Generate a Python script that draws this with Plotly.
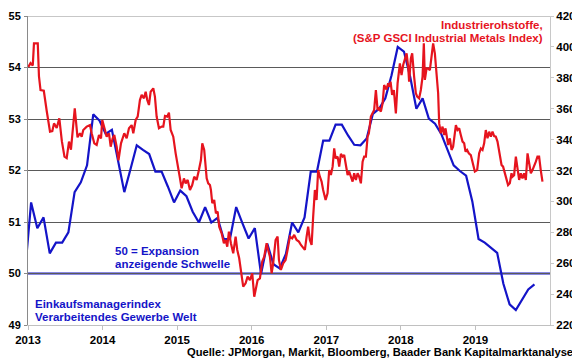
import pandas as pd
import plotly.graph_objects as go

# ---------------- data ----------------
# Global manufacturing PMI (monthly, Dec 2012 .. Oct 2019)
pmi_months = pd.period_range("2012-12", "2019-10", freq="M")
pmi_values = [
    50.0,
    51.38, 50.88, 51.09, 50.39, 50.60, 50.60, 50.80, 51.58, 51.77, 52.10, 53.09, 52.97,
    52.71, 52.79, 52.20, 51.58, 52.03, 52.49, 52.40, 52.32, 51.98, 51.98, 51.69, 51.38,
    51.61, 51.50, 51.20, 50.99, 51.29, 50.99, 51.08, 50.67, 50.67, 51.29, 50.98, 50.68,
    50.88, 49.99, 50.58, 50.18, 50.10, 50.38, 50.99, 50.80, 51.09, 51.98, 51.98, 52.58,
    52.58, 52.89, 52.89, 52.68, 52.50, 52.49, 52.62, 53.10, 53.20, 53.40, 53.85, 54.40,
    54.31, 53.82, 53.20, 53.40, 53.01, 52.91, 52.71, 52.39, 52.10, 51.99, 51.90, 51.40,
    50.67, 50.60, 50.50, 50.40, 49.80, 49.40, 49.29, 49.48, 49.69, 49.79,
]

# S&P GSCI Industrial Metals Index (weekly, time in decimal years)
metals_t = [
    2013.004, 2013.034, 2013.064, 2013.080, 2013.131, 2013.147, 2013.168, 2013.212, 2013.251, 2013.295,
    2013.326, 2013.349, 2013.385, 2013.420, 2013.454, 2013.489, 2013.519, 2013.550, 2013.576, 2013.627,
    2013.664, 2013.697, 2013.720, 2013.741, 2013.787, 2013.831, 2013.854, 2013.889, 2013.921, 2013.952,
    2013.979, 2013.996, 2014.032, 2014.055, 2014.086, 2014.109, 2014.135, 2014.157, 2014.189, 2014.213,
    2014.247, 2014.291, 2014.323, 2014.354, 2014.390, 2014.412, 2014.444, 2014.471, 2014.501, 2014.524,
    2014.555, 2014.578, 2014.599, 2014.622, 2014.645, 2014.680, 2014.702, 2014.725, 2014.756, 2014.792,
    2014.814, 2014.837, 2014.867, 2014.890, 2014.913, 2014.948, 2014.980, 2015.007, 2015.038, 2015.060,
    2015.091, 2015.114, 2015.141, 2015.172, 2015.202, 2015.229, 2015.261, 2015.292, 2015.319, 2015.337,
    2015.363, 2015.396, 2015.417, 2015.440, 2015.453, 2015.471, 2015.497, 2015.520, 2015.543, 2015.564,
    2015.597, 2015.627, 2015.650, 2015.672, 2015.694, 2015.721, 2015.752, 2015.784, 2015.806, 2015.832,
    2015.865, 2015.886, 2015.918, 2015.945, 2015.976, 2016.007, 2016.034, 2016.052, 2016.079, 2016.110,
    2016.141, 2016.168, 2016.200, 2016.221, 2016.244, 2016.267, 2016.288, 2016.320, 2016.347, 2016.365,
    2016.391, 2016.422, 2016.454, 2016.481, 2016.512, 2016.543, 2016.570, 2016.602, 2016.633, 2016.660,
    2016.690, 2016.713, 2016.736, 2016.757, 2016.780, 2016.803, 2016.824, 2016.847, 2016.870, 2016.891,
    2016.914, 2016.937, 2016.958, 2016.991, 2017.017, 2017.039, 2017.062, 2017.085, 2017.106, 2017.125,
    2017.152, 2017.173, 2017.196, 2017.219, 2017.240, 2017.263, 2017.286, 2017.307, 2017.330, 2017.353,
    2017.374, 2017.397, 2017.420, 2017.441, 2017.464, 2017.487, 2017.508, 2017.531, 2017.554, 2017.571,
    2017.598, 2017.621, 2017.642, 2017.665, 2017.688, 2017.709, 2017.732, 2017.755, 2017.776, 2017.806,
    2017.830, 2017.846, 2017.862, 2017.883, 2017.906, 2017.933, 2017.956, 2017.987, 2018.009, 2018.031,
    2018.054, 2018.077, 2018.098, 2018.111, 2018.134, 2018.152, 2018.178, 2018.201, 2018.219, 2018.245,
    2018.268, 2018.291, 2018.308, 2018.322, 2018.345, 2018.366, 2018.389, 2018.412, 2018.433, 2018.456,
    2018.479, 2018.500, 2018.514, 2018.536, 2018.559, 2018.581, 2018.599, 2018.621, 2018.634, 2018.657,
    2018.680, 2018.701, 2018.724, 2018.738, 2018.760, 2018.782, 2018.804, 2018.827, 2018.849, 2018.867,
    2018.888, 2018.911, 2018.938, 2018.961, 2018.983, 2018.992, 2019.023, 2019.050, 2019.073, 2019.095,
    2019.117, 2019.139, 2019.162, 2019.184, 2019.207, 2019.229, 2019.251, 2019.273, 2019.296, 2019.327,
    2019.350, 2019.371, 2019.394, 2019.417, 2019.438, 2019.461, 2019.484, 2019.497, 2019.519, 2019.542,
    2019.564, 2019.586, 2019.608, 2019.631, 2019.653, 2019.676, 2019.699, 2019.720, 2019.743, 2019.765,
    2019.787, 2019.810, 2019.832, 2019.854, 2019.876, 2019.899,
]
metals_v = [
    387.0, 389.5, 388.0, 402.3, 402.3, 381.0, 372.0, 371.6, 358.5, 345.1,
    345.5, 350.5, 347.5, 353.8, 339.0, 329.0, 328.0, 338.7, 333.5, 360.2,
    341.5, 344.1, 341.9, 346.2, 348.4, 349.4, 344.1, 337.6, 336.5, 343.0,
    340.8, 352.7, 346.2, 341.9, 344.1, 335.4, 340.8, 343.0, 335.4, 326.5,
    337.6, 344.1, 340.8, 347.3, 349.4, 344.1, 352.7, 354.9, 365.6, 368.9,
    366.7, 371.0, 365.6, 362.4, 371.0, 373.2, 367.8, 354.9, 347.3, 348.4,
    348.4, 355.3, 354.9, 357.4, 346.2, 341.9, 331.1, 324.6, 314.9, 308.5,
    314.9, 311.7, 313.9, 307.4, 310.6, 316.0, 313.9, 320.3, 326.8, 337.6,
    333.3, 315.0, 311.7, 310.6, 307.4, 298.8, 300.9, 292.3, 293.4, 283.6,
    279.3, 272.9, 275.0, 270.7, 280.4, 272.9, 266.4, 277.2, 268.6, 263.2,
    253.5, 244.8, 247.0, 251.3, 249.1, 253.5, 238.3, 243.7, 249.1, 250.2,
    261.0, 264.2, 272.9, 268.6, 264.2, 253.5, 259.9, 275.0, 277.2, 262.1,
    255.6, 259.9, 262.1, 268.6, 277.2, 276.1, 278.3, 275.0, 274.0, 271.8,
    269.6, 268.6, 277.2, 283.6, 275.0, 271.8, 290.1, 307.4, 300.9, 320.3,
    316.0, 312.8, 307.4, 300.9, 305.2, 320.3, 317.1, 322.5, 334.3, 327.9,
    329.0, 322.5, 330.7, 329.0, 330.0, 322.5, 317.1, 319.3, 316.0, 312.8,
    318.2, 313.9, 318.2, 316.0, 311.7, 325.7, 329.0, 329.0, 341.9, 344.1,
    354.9, 357.0, 359.2, 372.1, 359.2, 360.2, 358.1, 363.5, 375.3, 372.5,
    376.4, 374.2, 377.5, 368.9, 372.1, 357.0, 376.4, 389.4, 381.8, 388.3,
    392.6, 395.8, 387.2, 377.5, 392.6, 395.8, 380.7, 370.0, 367.8, 366.7,
    372.1, 380.7, 402.3, 378.6, 386.1, 386.0, 385.0, 393.7, 402.3, 395.8,
    382.9, 370.0, 350.5, 344.1, 348.4, 343.0, 347.3, 339.7, 336.5, 340.8,
    333.3, 335.4, 346.2, 349.4, 346.2, 347.3, 343.0, 338.7, 337.6, 332.2,
    333.3, 331.1, 330.0, 325.7, 320.3, 319.3, 320.3, 331.1, 334.3, 333.3,
    337.6, 346.2, 340.8, 345.1, 341.9, 345.1, 342.3, 341.9, 338.7, 331.1,
    323.6, 322.5, 318.2, 312.8, 310.6, 311.7, 318.2, 316.0, 317.0, 329.0,
    322.5, 313.9, 318.2, 314.9, 318.2, 313.9, 331.1, 324.6, 318.2, 320.3,
    322.5, 325.7, 329.0, 329.0, 320.3, 312.8,
]

year_ticks = [2013, 2014, 2015, 2016, 2017, 2018, 2019]
threshold = 50

# ---------------- figure ----------------
BLUE = "#1414c8"
RED = "#e6141e"
FONT = "Liberation Sans, Arial, sans-serif"

pmi_x = [p.year + (p.month - 0.5) / 12 for p in pmi_months]

fig = go.Figure()
fig.add_trace(go.Scatter(x=pmi_x, y=pmi_values, mode="lines",
                         line=dict(color=BLUE, width=2.2), yaxis="y", showlegend=False))
fig.add_trace(go.Scatter(x=metals_t, y=metals_v, mode="lines",
                         line=dict(color=RED, width=2.2), yaxis="y2", showlegend=False))

fig.add_shape(type="line", xref="paper", x0=0, x1=1, yref="y", y0=threshold, y1=threshold,
              line=dict(color=BLUE, width=2), layer="between")
fig.add_shape(type="line", xref="paper", x0=0, x1=1, yref="y", y0=55, y1=55,
              line=dict(color="#b4b4b4", width=1.5))

tickfont = dict(family=FONT, size=11.5, color="black", weight="bold")
lefttickfont = dict(family=FONT, size=11, color="black", weight="bold")

# the page body has an 8px margin, so the figure is sized 8px smaller and margins shifted
fig.update_layout(
    width=572, height=351,
    margin=dict(l=20, r=30, t=8, b=34, autoexpand=False),
    paper_bgcolor="white", plot_bgcolor="white",
    font=dict(family=FONT),
    xaxis=dict(range=[2013, 2020], tickvals=year_ticks, ticktext=[str(y) for y in year_ticks],
               showgrid=False, zeroline=False, showline=True, linecolor="#c0c0c0", linewidth=1,
               ticks="outside", ticklen=4, tickcolor="#c0c0c0", tickfont=tickfont,
               automargin=False),
    yaxis=dict(range=[49, 55], dtick=1, showgrid=True, gridcolor="#5a5a5a", gridwidth=1,
               zeroline=False, showline=True, linecolor="#8a8a8a", linewidth=1,
               ticks="outside", ticklen=3, tickcolor="#8a8a8a", tickfont=lefttickfont,
               ticklabelstandoff=1, automargin=False),
    yaxis2=dict(range=[220, 420], dtick=20, overlaying="y", side="right", showgrid=False,
                zeroline=False, showline=True, linecolor="#c8c8c8", linewidth=1,
                ticks="outside", ticklen=3, tickcolor="#c8c8c8", tickfont=tickfont,
                automargin=False),
)

def note(text, x, y, color, xanchor="left", size=11.5):
    fig.add_annotation(text=text, xref="paper", yref="paper", x=x, y=y, xanchor=xanchor,
                       yanchor="middle", showarrow=False,
                       font=dict(family=FONT, size=size, color=color, weight="bold"))

note("Industrierohstoffe,", 0.990, 0.971, RED, "right")
note("(S&P GSCI Industrial Metals Index)", 0.990, 0.929, RED, "right")
note("50 = Expansion", 0.1628, 0.2395, BLUE)
note("anzeigende Schwelle", 0.1628, 0.1974, BLUE)
note("Einkaufsmanagerindex", 0.0096, 0.068, BLUE)
note("Verarbeitendes Gewerbe Welt", 0.0096, 0.0259, BLUE)
note("Quelle: JPMorgan, Markit, Bloomberg, Baader Bank Kapitalmarktanalyse", 1.047, -0.0874,
     "black", "right", 11.2)

fig.write_html("out.html")
